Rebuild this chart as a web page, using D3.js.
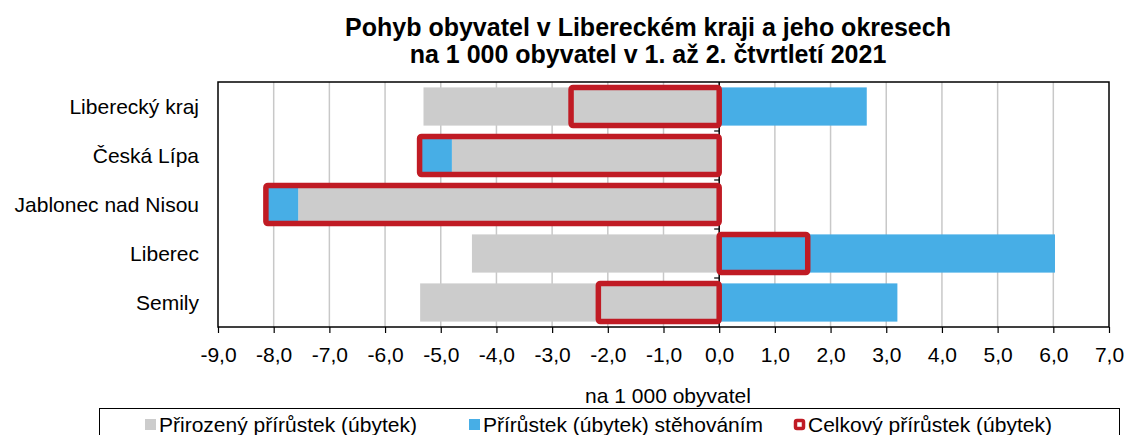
<!DOCTYPE html>
<html><head><meta charset="utf-8">
<script src="https://cdn.jsdelivr.net/npm/d3@7"></script>
<style>body{margin:0;background:#fff}svg{display:block}text{font-family:"Liberation Sans",Arial,sans-serif}</style>
</head><body><svg id="c" width="1129" height="435"></svg>
<script>
const categories = ["Liberecký kraj","Česká Lípa","Jablonec nad Nisou","Liberec","Semily"];
const natural = [-5.31,-4.80,-7.56,-4.44,-5.37];
const migration = [2.65,-0.58,-0.58,6.03,3.20];
const total = [-2.66,-5.38,-8.14,1.59,-2.17];
const xTicks = [-9,-8,-7,-6,-5,-4,-3,-2,-1,0,1,2,3,4,5,6,7];
const titleLines = ["Pohyb obyvatel v Libereckém kraji a jeho okresech","na 1 000 obyvatel v 1. až 2. čtvrtletí 2021"];
const axisTitle = "na 1 000 obyvatel";
const legendLabels = ["Přirozený přírůstek (úbytek)","Přírůstek (úbytek) stěhováním","Celkový přírůstek (úbytek)"];

const colGray="#cccccc", colBlue="#47aee6", colRed="#c01b24";
const FS=21;
const svg=d3.select("#c");
const L=218,R=1109,T=82,B=327;
const x=d3.scaleLinear().domain([-9,7]).range([L,R]);
const y=d3.scaleBand().domain(categories).range([T,B]).paddingInner(0.22).paddingOuter(0.11);
const fmt=d=>d3.format(".1f")(d).replace(".",",").replace("−","-");

// title
svg.append("g").selectAll("text").data(titleLines).join("text")
 .attr("x",648).attr("y",(d,i)=>36+i*27).attr("text-anchor","middle")
 .attr("font-weight","bold").attr("font-size",25).text(d=>d);

// gridlines
svg.append("g").selectAll("line").data(xTicks.filter(t=>t!==-9&&t!==7&&t!==0)).join("line")
 .attr("x1",d=>x(d)).attr("x2",d=>x(d)).attr("y1",T).attr("y2",B)
 .attr("stroke","#c8c8c8").attr("stroke-width",1.5);

// bars: diverging stacking
const g=svg.append("g");
categories.forEach((c,i)=>{
  const n=natural[i], m=migration[i];
  g.append("rect").attr("x",x(Math.min(0,n))).attr("width",Math.abs(x(n)-x(0)))
   .attr("y",y(c)).attr("height",y.bandwidth()).attr("fill",colGray);
  let s0 = (m<0 && n<0)? n : ((m>0 && n>0)? n : 0);
  let s1 = s0+m;
  g.append("rect").attr("x",x(Math.min(s0,s1))).attr("width",Math.abs(x(s1)-x(s0)))
   .attr("y",y(c)).attr("height",y.bandwidth()).attr("fill",colBlue);
});
// zero axis
svg.append("line").attr("x1",x(0)).attr("x2",x(0)).attr("y1",T).attr("y2",B).attr("stroke","#000").attr("stroke-width",1.5);
// category ticks
const bounds=categories.map(c=>y(c)-y.step()*y.paddingInner()/2).slice(1);
svg.append("g").selectAll("line").data(bounds).join("line")
 .attr("x1",x(0)-5).attr("x2",x(0)).attr("y1",d=>d).attr("y2",d=>d).attr("stroke","#000").attr("stroke-width",1.2);
// totals (outlined)
svg.append("g").selectAll("rect").data(categories).join("rect")
 .attr("x",(c,i)=>x(Math.min(0,total[i]))).attr("width",(c,i)=>Math.abs(x(total[i])-x(0)))
 .attr("y",c=>y(c)).attr("height",y.bandwidth())
 .attr("fill","none").attr("stroke",colRed).attr("stroke-width",5.5).attr("rx",2);

// frame
svg.append("rect").attr("x",L).attr("y",T).attr("width",R-L).attr("height",B-T).attr("fill","none").attr("stroke","#000").attr("stroke-width",1.5);

// x axis
const xa=svg.append("g").attr("transform",`translate(0,${B})`)
 .call(d3.axisBottom(x).tickValues(xTicks).tickFormat(fmt).tickSize(6).tickPadding(14));
xa.select(".domain").remove();
xa.selectAll("line").attr("stroke","#000").attr("stroke-width",1.2);
xa.selectAll("text").attr("font-size",FS).attr("fill","#000").attr("font-family","Liberation Sans, Arial, sans-serif");

// category labels
svg.append("g").selectAll("text").data(categories).join("text")
 .attr("x",199).attr("y",c=>y(c)+y.bandwidth()/2+7.5).attr("text-anchor","end")
 .attr("font-size",FS).text(d=>d);

// axis title
svg.append("text").attr("x",668).attr("y",403).attr("text-anchor","middle").attr("font-size",FS).text(axisTitle);

// legend
svg.append("rect").attr("x",99.5).attr("y",408.5).attr("width",1020).attr("height",40).attr("fill","none").attr("stroke","#000").attr("stroke-width",1);
const lx=[145,469,794];
const lg=svg.append("g").selectAll("g").data(legendLabels).join("g").attr("transform",(d,i)=>`translate(${lx[i]},0)`);
lg.each(function(d,i){
  const s=d3.select(this);
  if(i<2){s.append("rect").attr("x",0).attr("y",419).attr("width",11).attr("height",11).attr("fill",i===0?colGray:colBlue);}
  else{s.append("rect").attr("x",1.5).attr("y",420.5).attr("width",8).attr("height",8).attr("fill","#fff").attr("stroke",colRed).attr("stroke-width",3.5).attr("rx",1.5);}
  s.append("text").attr("x",14).attr("y",432).attr("font-size",FS).text(d);
});
</script></body></html>
